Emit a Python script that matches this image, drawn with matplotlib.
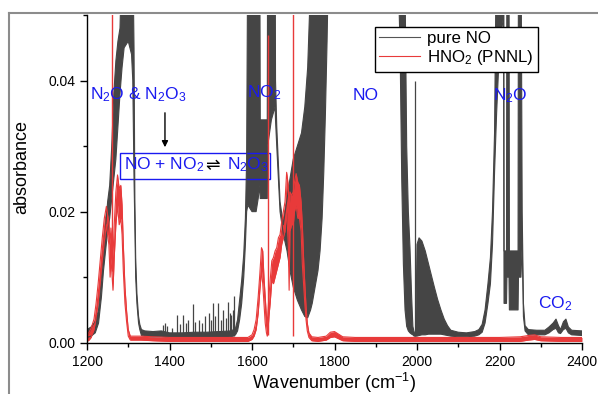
import numpy as np
import matplotlib
matplotlib.use('Agg')
import matplotlib.pyplot as plt
from matplotlib.lines import Line2D
from matplotlib.patches import Rectangle

plt.rcParams['font.family'] = ['Liberation Sans', 'DejaVu Sans']
plt.rcParams['mathtext.fontset'] = 'custom'
plt.rcParams['mathtext.rm'] = 'Liberation Sans'
plt.rcParams['mathtext.it'] = 'Liberation Sans:italic'

GRAY = '#454545'
RED = '#e83a3a'
BLUE = '#1a1af0'

# ------------------------------------------------------------------
# pure NO spectrum. The dense rotational lines are drawn as a band
# between a lower and an upper envelope.
# ------------------------------------------------------------------
gray_wn = [1200, 1210, 1220, 1228, 1235, 1240, 1245, 1250, 1255, 1260,
           1265, 1270, 1275, 1280, 1285, 1290, 1300, 1308, 1311, 1314,
           1316, 1318, 1321, 1325, 1328, 1332,
           1340, 1360, 1380, 1400, 1430, 1460, 1490, 1520, 1550, 1560,
           1565, 1570, 1575, 1580, 1584, 1587, 1590, 1600, 1610, 1615,
           1619, 1620, 1628, 1637, 1638, 1647, 1656, 1657, 1660, 1668,
           1676, 1685, 1692, 1700, 1710, 1720, 1728, 1735, 1742, 1746,
           1753, 1760, 1765, 1770, 1774, 1778, 1782, 1786, 1800, 1900,
           1950, 1955, 1959, 1963, 1967, 1971, 1975, 1979, 1983, 1987,
           1990, 1993, 1997, 2000, 2005, 2012, 2020, 2028, 2035, 2042,
           2050, 2058, 2066, 2074, 2082, 2100, 2120, 2140, 2150, 2158,
           2165, 2172, 2178, 2183, 2188, 2193, 2200, 2210, 2211, 2217,
           2218, 2223, 2224, 2245, 2246, 2252, 2255, 2258, 2262, 2270,
           2290, 2310, 2320, 2330, 2337, 2343, 2348, 2355, 2361, 2367,
           2375, 2400]
gray_lo = [0.0008, 0.0010, 0.0015, 0.0030, 0.0070, 0.0110, 0.0140, 0.0170, 0.0190, 0.0220,
           0.0250, 0.0280, 0.0330, 0.0380, 0.0420, 0.0450, 0.0460, 0.0440, 0.0400, 0.0250,
           0.0180, 0.0100, 0.0060, 0.0030, 0.0020, 0.0011,
           0.0010, 0.0009, 0.0009, 0.0008, 0.0008, 0.0008, 0.0008, 0.0008, 0.0009, 0.0012,
           0.0018, 0.0035, 0.0060, 0.0100, 0.0150, 0.0200, 0.0210, 0.0200, 0.0200, 0.0220,
           0.0240, 0.0220, 0.0220, 0.0220, 0.0300, 0.0340, 0.0360, 0.0340, 0.0300, 0.0200,
           0.0165, 0.0140, 0.0110, 0.0085, 0.0065, 0.0050, 0.0040, 0.0038, 0.0050, 0.0060,
           0.0085, 0.0110, 0.0140, 0.0190, 0.0260, 0.0350, 0.0460, 0.0600, 0.0650, 0.0650,
           0.0650, 0.0550, 0.0450, 0.0250, 0.0120, 0.0050, 0.0025, 0.0018, 0.0015, 0.0013,
           0.0012, 0.0010, 0.0010, 0.0010, 0.0011, 0.0012, 0.0012, 0.0013, 0.0013, 0.0013,
           0.0013, 0.0013, 0.0012, 0.0011, 0.0010, 0.0009, 0.0009, 0.0010, 0.0012, 0.0016,
           0.0030, 0.0060, 0.0090, 0.0150, 0.0260, 0.0350, 0.0450, 0.0500, 0.0060, 0.0060,
           0.0100, 0.0100, 0.0050, 0.0050, 0.0100, 0.0100, 0.0150, 0.0040, 0.0018, 0.0012,
           0.0012, 0.0012, 0.0015, 0.0020, 0.0022, 0.0015, 0.0014, 0.0020, 0.0022, 0.0015,
           0.0012, 0.0011]
gray_hi = [0.0020, 0.0024, 0.0032, 0.0050, 0.0100, 0.0140, 0.0175, 0.0215, 0.0240, 0.0300,
           0.0380, 0.0430, 0.0460, 0.0480, 0.0600, 0.0650, 0.0650, 0.0650, 0.0600, 0.0450,
           0.0220, 0.0130, 0.0075, 0.0040, 0.0028, 0.0020,
           0.0018, 0.0017, 0.0018, 0.0015, 0.0015, 0.0016, 0.0016, 0.0017, 0.0018, 0.0022,
           0.0035, 0.0065, 0.0095, 0.0135, 0.0190, 0.0280, 0.0650, 0.0650, 0.0650, 0.0650,
           0.0600, 0.0340, 0.0340, 0.0340, 0.0650, 0.0650, 0.0650, 0.0400, 0.0330, 0.0215,
           0.0180, 0.0220, 0.0250, 0.0280, 0.0300, 0.0320, 0.0360, 0.0420, 0.0550, 0.0650,
           0.0650, 0.0650, 0.0650, 0.0650, 0.0650, 0.0650, 0.0650, 0.0700, 0.0700, 0.0700,
           0.0700, 0.0700, 0.0700, 0.0700, 0.0700, 0.0550, 0.0300, 0.0200, 0.0145, 0.0070,
           0.0025, 0.0016, 0.0016, 0.0150, 0.0160, 0.0155, 0.0140, 0.0120, 0.0102, 0.0085,
           0.0066, 0.0050, 0.0036, 0.0026, 0.0019, 0.0016, 0.0015, 0.0017, 0.0020, 0.0028,
           0.0050, 0.0090, 0.0130, 0.0200, 0.0320, 0.0650, 0.0650, 0.0650, 0.0140, 0.0140,
           0.0650, 0.0650, 0.0140, 0.0140, 0.0650, 0.0650, 0.0200, 0.0060, 0.0026, 0.0020,
           0.0019, 0.0019, 0.0024, 0.0030, 0.0036, 0.0026, 0.0020, 0.0032, 0.0036, 0.0024,
           0.0019, 0.0018]

# isolated sharp lines of pure NO
gray_line_wn = [1385, 1389, 1395, 1405, 1418, 1425, 1433, 1440, 1445, 1456,
                1462, 1472, 1478, 1486, 1495, 1500, 1505, 1511, 1518, 1524,
                1529, 1536, 1542, 1547, 1550, 1553, 1557, 1996]
gray_line_top = [0.0027, 0.0030, 0.0025, 0.0022, 0.0042, 0.0028, 0.0042, 0.0030, 0.0035, 0.0059,
                 0.0032, 0.0035, 0.0030, 0.0040, 0.0045, 0.0035, 0.0060, 0.0040, 0.0060, 0.0035,
                 0.0050, 0.0038, 0.0062, 0.0045, 0.0042, 0.0050, 0.0072, 0.0400]

# ------------------------------------------------------------------
# HNO2 reference spectrum (PNNL)
# ------------------------------------------------------------------
red_wn = [1200, 1205, 1210, 1217, 1222, 1227, 1232, 1237, 1242, 1247,
          1250, 1253, 1256, 1258, 1263, 1266, 1270, 1274, 1278, 1282,
          1285, 1288, 1292, 1296, 1300, 1305, 1330, 1360, 1400, 1450,
          1500, 1550, 1590, 1600, 1605, 1610, 1615, 1619, 1623, 1626,
          1629, 1632, 1635, 1637, 1639, 1641, 1644, 1648, 1652, 1656,
          1660, 1664, 1668, 1672, 1676, 1680, 1684, 1688, 1690, 1692,
          1696, 1700, 1703, 1707, 1711, 1715, 1719, 1722, 1725, 1728,
          1731, 1734, 1738, 1745, 1760, 1780, 1790, 1800, 1810, 1820,
          1850, 1900, 1950, 2000, 2050, 2100, 2150, 2200, 2250, 2270,
          2285, 2300, 2350, 2400]
red_lo = [0.0002, 0.0004, 0.0008, 0.0020, 0.0038, 0.0060, 0.0090, 0.0125, 0.0155, 0.0180,
          0.0165, 0.0150, 0.0100, 0.0130, 0.0080, 0.0130, 0.0180, 0.0210, 0.0180, 0.0190,
          0.0165, 0.0110, 0.0060, 0.0032, 0.0010, 0.0004, 0.0004, 0.0003, 0.0002, 0.0002,
          0.0002, 0.0002, 0.0002, 0.0005, 0.0010, 0.0020, 0.0045, 0.0080, 0.0110, 0.0090,
          0.0060, 0.0030, 0.0015, 0.0010, 0.0020, 0.0040, 0.0060, 0.0095, 0.0090, 0.0100,
          0.0110, 0.0120, 0.0130, 0.0150, 0.0160, 0.0170, 0.0200, 0.0150, 0.0080, 0.0170,
          0.0180, 0.0180, 0.0200, 0.0210, 0.0190, 0.0190, 0.0170, 0.0120, 0.0090, 0.0060,
          0.0035, 0.0018, 0.0008, 0.0003, 0.0002, 0.0004, 0.0008, 0.0009, 0.0006, 0.0003,
          0.0002, 0.0002, 0.0002, 0.0002, 0.0002, 0.0002, 0.0002, 0.0002, 0.0002, 0.0004,
          0.0005, 0.0003, 0.0002, 0.0002]
red_hi = [0.0012, 0.0016, 0.0022, 0.0036, 0.0060, 0.0090, 0.0125, 0.0160, 0.0190, 0.0208,
          0.0195, 0.0185, 0.0150, 0.0175, 0.0130, 0.0180, 0.0230, 0.0256, 0.0235, 0.0240,
          0.0210, 0.0150, 0.0085, 0.0048, 0.0020, 0.0010, 0.0010, 0.0009, 0.0008, 0.0008,
          0.0008, 0.0008, 0.0008, 0.0012, 0.0020, 0.0035, 0.0070, 0.0105, 0.0145, 0.0140,
          0.0100, 0.0070, 0.0040, 0.0030, 0.0050, 0.0070, 0.0095, 0.0125, 0.0130, 0.0140,
          0.0145, 0.0160, 0.0165, 0.0185, 0.0200, 0.0215, 0.0260, 0.0240, 0.0200, 0.0230,
          0.0225, 0.0230, 0.0245, 0.0258, 0.0245, 0.0240, 0.0215, 0.0180, 0.0130, 0.0090,
          0.0055, 0.0030, 0.0015, 0.0009, 0.0008, 0.0010, 0.0016, 0.0017, 0.0013, 0.0009,
          0.0008, 0.0008, 0.0008, 0.0008, 0.0008, 0.0008, 0.0008, 0.0008, 0.0009, 0.0011,
          0.0012, 0.0009, 0.0008, 0.0008]

# sharp HNO2 lines: position, foot, top
red_line_wn = [1260.8, 1638.2, 1699.2]
red_line_base = [0.0110, 0.0012, 0.0010]
red_line_top = [0.0700, 0.0470, 0.0700]

# ------------------------------------------------------------------
fig = plt.figure(figsize=(5.98, 3.94), dpi=100)
ax = fig.add_axes([87 / 598, 1 - 342.7 / 394, (582 - 87) / 598, (342.7 - 15) / 394])

ax.fill_between(gray_wn, gray_lo, gray_hi, color=GRAY, lw=0)
ax.plot(gray_wn, gray_lo, color=GRAY, lw=0.8)
ax.plot(gray_wn, gray_hi, color=GRAY, lw=0.8)
ax.vlines(gray_line_wn, 0.0010, gray_line_top, color=GRAY, lw=0.9)

ax.fill_between(red_wn, red_lo, red_hi, color=RED, lw=0)
ax.plot(red_wn, red_lo, color=RED, lw=0.8)
ax.plot(red_wn, red_hi, color=RED, lw=0.8)
ax.vlines(red_line_wn, red_line_base, red_line_top, color=RED, lw=1.0)

ax.set_xlim(1200, 2400)
ax.set_ylim(0, 0.05)
ax.set_xticks(np.arange(1200, 2401, 200))
ax.set_xticks(np.arange(1300, 2400, 200), minor=True)
ax.set_yticks([0.0, 0.02, 0.04])
ax.set_yticks([0.01, 0.03, 0.05], minor=True)
ax.yaxis.set_major_formatter('{x:.2f}')
ax.tick_params(which='major', direction='out', length=5, width=1, labelsize=10)
ax.tick_params(which='minor', direction='out', length=3, width=1)
for side in ['top', 'right']:
    ax.spines[side].set_visible(False)
for side in ['left', 'bottom']:
    ax.spines[side].set_linewidth(1)

fig.text(22 / 598, 1 - 167 / 394, 'absorbance', rotation=90, ha='center', va='center', fontsize=13)
fig.text(334 / 598, 1 - 383 / 394, 'Wavenumber (cm$^{-1}$)', ha='center', va='center', fontsize=13)

# species labels
ax.text(1207, 0.0372, 'N$_2$O & N$_2$O$_3$', color=BLUE, fontsize=12.5)
ax.text(1588, 0.0375, 'NO$_2$', color=BLUE, fontsize=12.5)
ax.text(1845, 0.0370, 'NO', color=BLUE, fontsize=12.5)
ax.text(2184, 0.0370, 'N$_2$O', color=BLUE, fontsize=12.5)
ax.text(2293, 0.00525, 'CO$_2$', color=BLUE, fontsize=12.5)

ax.annotate('', xy=(1389, 0.0294), xytext=(1389, 0.0355),
            arrowprops=dict(arrowstyle='-|>', color='black', lw=1, mutation_scale=9))
ax.add_patch(Rectangle((1280, 0.0250), 363.6, 0.00396, fill=False,
                       edgecolor=BLUE, lw=1, clip_on=False))
ax.text(1290, 0.0264, 'NO + NO$_2$', color=BLUE, fontsize=12.5)
ax.text(1486, 0.0264, '\u21cc', color='black', fontsize=12.5, family=['DejaVu Sans'])
ax.text(1539, 0.0264, 'N$_2$O$_3$', color=BLUE, fontsize=12.5)

handles = [Line2D([], [], color='#555555', lw=0.8, label='pure NO'),
           Line2D([], [], color=RED, lw=0.8, label='HNO$_2$ (PNNL)')]
ax.legend(handles=handles, loc='upper left', bbox_to_anchor=(375 / 598, 1 - 27 / 394),
          bbox_transform=fig.transFigure, fontsize=12.2, frameon=True, fancybox=False,
          edgecolor='black', framealpha=1, borderpad=0.25, labelspacing=0.12,
          handlelength=2.4, handletextpad=0.4, borderaxespad=0)

# outer frame of the original figure
fig.add_artist(Line2D([9 / 598, 9 / 598], [0, 1 - 13 / 394], transform=fig.transFigure,
                      color='#8c8c8c', lw=1.5))
fig.add_artist(Line2D([9 / 598, 1], [1 - 13 / 394, 1 - 13 / 394], transform=fig.transFigure,
                      color='#8c8c8c', lw=1.5))

fig.savefig('out.png', dpi=100)
